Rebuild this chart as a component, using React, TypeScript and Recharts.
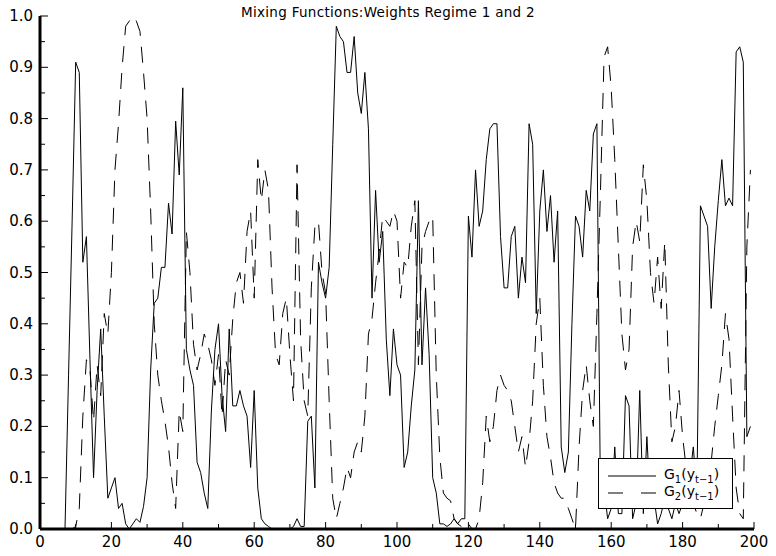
import { LineChart, Line, XAxis, YAxis } from 'recharts'

// mixing weight of regime 1, one value per period
const g1 = [
  0, 0, 0, 0, 0, 0, 0, 0, 0.30, 0.60,
  0.91, 0.89, 0.52, 0.57, 0.33, 0.10, 0.27, 0.39, 0.22, 0.06,
  0.08, 0.10, 0.04, 0.05, 0.01, 0.00, 0.01, 0.02, 0.013, 0.044,
  0.10, 0.31, 0.44, 0.45, 0.51, 0.51, 0.635, 0.575, 0.795, 0.69,
  0.86, 0.35, 0.31, 0.28, 0.13, 0.11, 0.07, 0.04, 0.23, 0.35,
  0.40, 0.26, 0.19, 0.39, 0.24, 0.24, 0.27, 0.24, 0.22, 0.12,
  0.27, 0.08, 0.02, 0.01, 0.005, 0, 0, 0, 0, 0,
  0, 0.005, 0.02, 0.005, 0.005, 0.21, 0.22, 0.08, 0.52, 0.48,
  0.45, 0.51, 0.75, 0.98, 0.96, 0.95, 0.89, 0.89, 0.96, 0.85,
  0.81, 0.89, 0.78, 0.45, 0.66, 0.52, 0.58, 0.37, 0.26, 0.39,
  0.32, 0.30, 0.12, 0.15, 0.24, 0.31, 0.64, 0.32, 0.47, 0.34,
  0.10, 0.07, 0.01, 0.01, 0.005, 0.01, 0.02, 0.01, 0.02, 0.02,
  0.61, 0.53, 0.70, 0.59, 0.62, 0.72, 0.78, 0.79, 0.79, 0.57,
  0.47, 0.47, 0.57, 0.59, 0.45, 0.53, 0.48, 0.79, 0.75, 0.42,
  0.62, 0.70, 0.58, 0.65, 0.52, 0.62, 0.16, 0.11, 0.15, 0.40,
  0.61, 0.59, 0.53, 0.66, 0.62, 0.77, 0.79, 0.05, 0.08, 0.02,
  0.04, 0.16, 0.03, 0.03, 0.26, 0.24, 0.02, 0.05, 0.27, 0.03,
  0.18, 0.04, 0.06, 0.01, 0.03, 0.06, 0.04, 0.02, 0.05, 0.03,
  0.05, 0.08, 0.10, 0.16, 0.07, 0.63, 0.61, 0.59, 0.43, 0.55,
  0.64, 0.72, 0.63, 0.645, 0.63, 0.93, 0.94, 0.91, 0.18, 0.20,
]

// mixing weight of regime 2
const g2 = [
  0, 0, 0, 0, 0, 0, 0, 0, 0, 0,
  0.005, 0.04, 0.22, 0.33, 0.31, 0.21, 0.32, 0.26, 0.42, 0.38,
  0.50, 0.70, 0.79, 0.90, 0.98, 0.99, 1.00, 0.99, 0.97, 0.89,
  0.80, 0.62, 0.40, 0.30, 0.25, 0.21, 0.16, 0.09, 0.04, 0.23,
  0.19, 0.58, 0.50, 0.36, 0.31, 0.34, 0.38, 0.36, 0.33, 0.28,
  0.34, 0.22, 0.33, 0.30, 0.41, 0.48, 0.50, 0.44, 0.58, 0.62,
  0.45, 0.72, 0.64, 0.70, 0.66, 0.47, 0.34, 0.32, 0.42, 0.45,
  0.34, 0.25, 0.71, 0.37, 0.25, 0.22, 0.47, 0.59, 0.60, 0.50,
  0.46, 0.25, 0.06, 0.02, 0.05, 0.08, 0.12, 0.10, 0.15, 0.17,
  0.15, 0.22, 0.38, 0.41, 0.48, 0.54, 0.61, 0.60, 0.59, 0.62,
  0.60, 0.45, 0.52, 0.51, 0.59, 0.64, 0.32, 0.55, 0.58, 0.60,
  0.61, 0.30, 0.14, 0.07, 0.06, 0.055, 0.02, 0.01, 0.005, 0,
  0.01, 0, 0, 0.02, 0.09, 0.22, 0.17, 0.20, 0.27, 0.30,
  0.28, 0.27, 0.25, 0.20, 0.15, 0.18, 0.12, 0.17, 0.25, 0.40,
  0.45, 0.28, 0.18, 0.14, 0.09, 0.07, 0.06, 0.06, 0.04, 0.02,
  0.00, 0.16, 0.27, 0.32, 0.25, 0.20, 0.42, 0.66, 0.92, 0.94,
  0.86, 0.72, 0.55, 0.38, 0.31, 0.35, 0.55, 0.60, 0.56, 0.71,
  0.64, 0.50, 0.44, 0.53, 0.43, 0.56, 0.32, 0.17, 0.20, 0.27,
  0.18, 0.12, 0.08, 0.05, 0.03, 0.02, 0.05, 0.07, 0.13, 0.20,
  0.26, 0.32, 0.42, 0.37, 0.22, 0.08, 0.03, 0.02, 0.55, 0.70,
]

const xTicks = [0, 10, 20, 30, 40, 50, 60, 70, 80, 90, 100, 110, 120, 130, 140, 150, 160, 170, 180, 190, 200]
const yTicks = [0, 0.05, 0.1, 0.15, 0.2, 0.25, 0.3, 0.35, 0.4, 0.45, 0.5, 0.55, 0.6, 0.65, 0.7, 0.75, 0.8, 0.85, 0.9, 0.95, 1]

const title = 'Mixing Functions:Weights Regime 1 and 2'

const data = g1.map((v, i) => ({ t: i, g1: v, g2: g2[i] }))

const FONT = '"DejaVu Sans", sans-serif'
const TICK_MARGIN = 6

function YTick({ x, y, payload }: any) {
  const v = payload.value
  const major = Math.round(v * 100) % 10 === 0
  const ax = x + TICK_MARGIN
  return (
    <g>
      <line x1={ax} y1={y} x2={ax + (major ? 8 : 5)} y2={y} stroke="#000" strokeWidth={1} />
      {major && (
        <text x={x - 1} y={y} dy={5} textAnchor="end" fontSize={15} fontFamily={FONT} fill="#000">
          {v.toFixed(1)}
        </text>
      )}
    </g>
  )
}

function XTick({ x, y, payload }: any) {
  const v = payload.value
  const major = v % 20 === 0
  const ay = y - TICK_MARGIN
  return (
    <g>
      <line x1={x} y1={ay} x2={x} y2={ay - (major ? 7 : 5)} stroke="#000" strokeWidth={1} />
      {major && (
        <text x={x} y={y} dy={12} textAnchor="middle" fontSize={15} fontFamily={FONT} fill="#000">
          {v}
        </text>
      )}
    </g>
  )
}

function LegendRow({ dashed, sub }: { dashed?: boolean; sub: string }) {
  return (
    <div style={{ display: 'flex', alignItems: 'center', height: 17 }}>
      <svg width={58} height={10}>
        <line x1={9} y1={5} x2={57} y2={5} stroke="#000" strokeWidth={1} strokeDasharray={dashed ? '15 18' : undefined} />
      </svg>
      <span style={{ marginLeft: 7, fontSize: 14, fontFamily: FONT, color: '#000', whiteSpace: 'nowrap' }}>
        G<sub style={{ fontSize: 10 }}>{sub}</sub>(y<sub style={{ fontSize: 10 }}>t−1</sub>)
      </span>
    </div>
  )
}

export default function App() {
  return (
    <div style={{ position: 'absolute', left: 0, top: 0, width: 776, height: 556, background: '#fff' }}>
      <div
        style={{
          position: 'absolute', top: 4, left: 0, width: 776, textAlign: 'center',
          fontFamily: FONT, fontSize: 13.5, letterSpacing: 0.3, color: '#000',
        }}
      >
        {title}
      </div>

      <LineChart width={776} height={556} data={data} margin={{ top: 16, right: 22, left: 0, bottom: 0 }}>
        <XAxis
          dataKey="t"
          type="number"
          domain={[0, 200]}
          ticks={xTicks}
          interval={0}
          height={27}
          tickSize={0}
          tickMargin={TICK_MARGIN}
          tick={<XTick />}
          axisLine={{ stroke: '#000', strokeWidth: 3 }}
        />
        <YAxis
          type="number"
          domain={[0, 1]}
          ticks={yTicks}
          interval={0}
          width={40}
          tickSize={0}
          tickMargin={TICK_MARGIN}
          tick={<YTick />}
          axisLine={{ stroke: '#000', strokeWidth: 3 }}
        />
        <Line type="linear" dataKey="g1" stroke="#000" strokeWidth={1} dot={false} isAnimationActive={false} />
        <Line
          type="linear"
          dataKey="g2"
          stroke="#000"
          strokeWidth={1}
          strokeDasharray="16 11"
          dot={false}
          isAnimationActive={false}
        />
      </LineChart>

      <div
        style={{
          position: 'absolute', left: 598, top: 458, width: 135, height: 51,
          border: '1px solid #000', background: '#fff', paddingTop: 8, boxSizing: 'border-box',
        }}
      >
        <LegendRow sub="1" />
        <LegendRow dashed sub="2" />
      </div>
    </div>
  )
}
